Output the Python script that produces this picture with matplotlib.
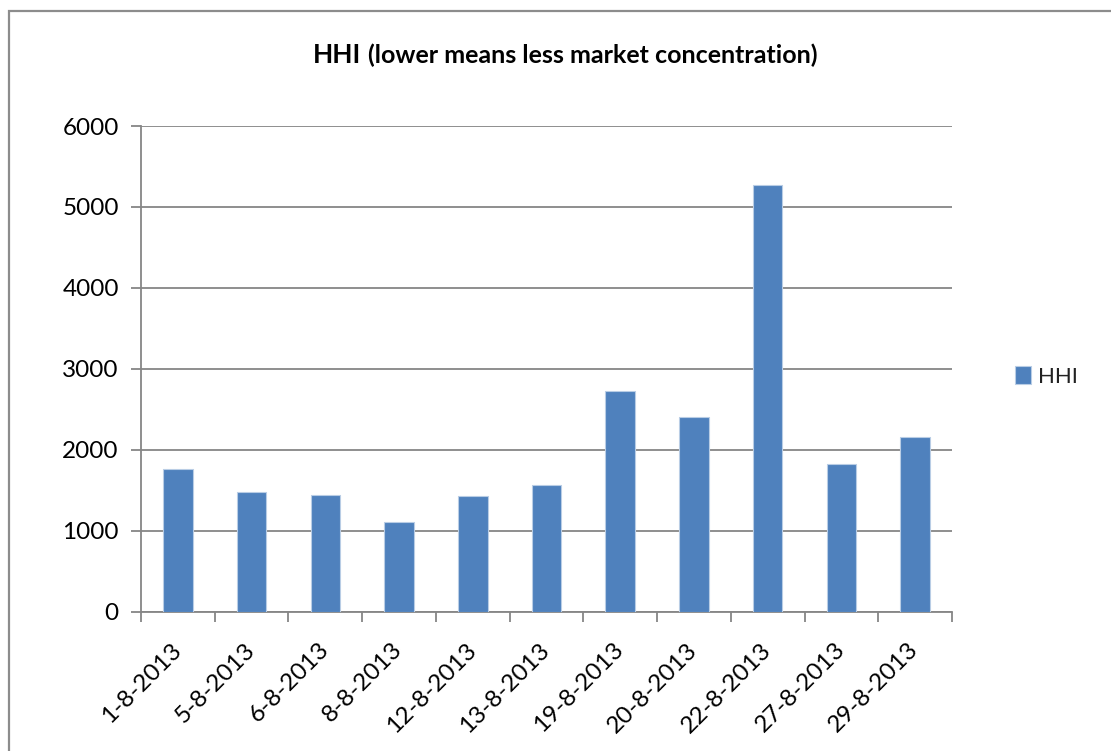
import matplotlib
matplotlib.use("Agg")
import matplotlib.pyplot as plt
from matplotlib.patches import Rectangle

plt.rcParams['font.family'] = ['Lato', 'DejaVu Sans']

# data
dates = ["1-8-2013", "5-8-2013", "6-8-2013", "8-8-2013", "12-8-2013", "13-8-2013",
         "19-8-2013", "20-8-2013", "22-8-2013", "27-8-2013", "29-8-2013"]
hhi = [1760, 1480, 1445, 1110, 1430, 1570, 2730, 2410, 5275, 1827, 2160]
yticks = [0, 1000, 2000, 3000, 4000, 5000, 6000]

bar_col = "#4F81BD"
grid_col = "#868686"

fig = plt.figure(figsize=(11.11, 7.51), dpi=100)
ax = fig.add_axes([0.1269, 0.1855, 0.73, 0.6467])

# chart area border (only left/top visible in the crop)
fig.patches.append(Rectangle((9 / 1111, -0.1), 1.2, 1 - 11 / 751 + 0.1,
                             transform=fig.transFigure, fill=False,
                             edgecolor="#8c8c8c", linewidth=1.6, zorder=0))

x = list(range(len(dates)))
ax.bar(x, hhi, width=0.4, color=bar_col, edgecolor="#b9cde5", linewidth=0.8,
       zorder=3, label="HHI")

ax.set_xlim(-0.5, len(dates) - 0.5)
ax.set_ylim(0, 6000)
ax.set_yticks(yticks)
ax.yaxis.grid(True, color=grid_col, linewidth=1.3, zorder=0)

# ticks at category boundaries like excel
ax.set_xticks([i - 0.5 for i in range(len(dates) + 1)])
ax.set_xticklabels([])
ax.set_xticks(x, minor=True)
ax.set_xticklabels(dates, minor=True, rotation=45, ha="right", va="center",
                   rotation_mode="anchor", fontsize=17.5, color="#000000")
ax.tick_params(axis="x", which="minor", length=0, pad=25)
ax.tick_params(axis="x", which="major", length=7, width=1.3, color=grid_col)
ax.tick_params(axis="y", length=7, width=1.3, color=grid_col, labelsize=17.5, pad=9)

for s in ["top", "right"]:
    ax.spines[s].set_visible(False)
for s in ["left", "bottom"]:
    ax.spines[s].set_color(grid_col)
    ax.spines[s].set_linewidth(1.3)

# title in two pieces: bold HHI, lighter rest
fig.text(0.2817, 0.927, "HHI", fontsize=19, fontweight="bold", ha="left", va="center")
fig.text(0.3312, 0.927, "(lower means less market concentration)", fontsize=18,
         fontweight="bold", ha="left", va="center")

leg = ax.legend(loc="center left", bbox_to_anchor=(1.053, 0.485), frameon=False,
                fontsize=16, handlelength=0.7, handleheight=0.9, handletextpad=0.35)
for t in leg.get_texts():
    t.set_color("#222222")

fig.savefig("out.png", dpi=100)
